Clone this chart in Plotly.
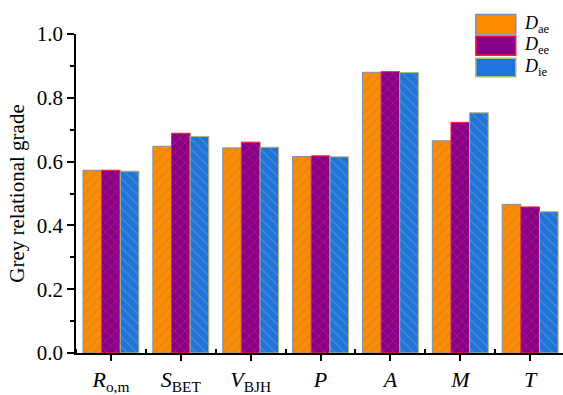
import plotly.graph_objects as go

categories = ["<i>R</i><sub>o,m</sub>", "<i>S</i><sub>BET</sub>", "<i>V</i><sub>BJH</sub>",
              "<i>P</i>", "<i>A</i>", "<i>M</i>", "<i>T</i>"]
series_names = ["<i>D</i><sub>ae</sub>", "<i>D</i><sub>ee</sub>", "<i>D</i><sub>ie</sub>"]
D_ae = [0.573, 0.648, 0.643, 0.616, 0.880, 0.665, 0.466]
D_ee = [0.573, 0.689, 0.661, 0.618, 0.882, 0.723, 0.458]
D_ie = [0.570, 0.679, 0.645, 0.615, 0.879, 0.753, 0.443]
y_ticks = [0.0, 0.2, 0.4, 0.6, 0.8, 1.0]

series = [D_ae, D_ee, D_ie]
fills = ["#FF8C00", "#880088", "#1E74DC"]
pat_fg = ["#A08060", "#E8306A", "#80A0A8"]
pat_shape = ["/", "x", "\\"]
borders = ["#7890B0", "#FF2020", "#B4B478"]

FONT = "Liberation Serif"
xs = list(range(len(categories)))

fig = go.Figure()
for vals, name, fc, pf, ps, bc in zip(series, series_names, fills, pat_fg, pat_shape, borders):
    fig.add_trace(go.Bar(
        x=xs, y=vals, name=name, showlegend=False,
        marker=dict(color=fc, line=dict(color=bc, width=1),
                    pattern=dict(shape=ps, fgcolor=pf, bgcolor=fc, size=7, solidity=0.2, fillmode="overlay")),
    ))

# legend drawn manually (larger swatches like the original)
box_x0, box_x1 = 0.821, 0.903
box_y = [(1.061, 1.000), (0.994, 0.933), (0.924, 0.866)]
for (y1, y0), name, fc, bc in zip(box_y, series_names, fills, borders):
    fig.add_shape(type="rect", xref="paper", yref="paper", x0=box_x0, x1=box_x1, y0=y0, y1=y1,
                  fillcolor=fc, line=dict(color=bc, width=1.5), layer="above")
    fig.add_annotation(xref="paper", yref="paper", x=0.915, y=(y0 + y1) / 2, text=name,
                       showarrow=False, xanchor="left", yanchor="middle",
                       font=dict(family=FONT, size=18, color="black"))

fig.update_layout(
    width=563, height=395,
    margin=dict(l=76, r=0, t=34, b=33),
    paper_bgcolor="white", plot_bgcolor="white",
    barmode="group", bargap=0.2, bargroupgap=0,
    font=dict(family=FONT, color="black"),
    showlegend=False,
)
fig.update_xaxes(
    range=[-0.5, 6.47], tickmode="array", tickvals=xs, ticktext=categories,
    showline=True, linecolor="black", linewidth=1.5, mirror=False,
    ticks="outside", ticklen=6, tickwidth=1.5, tickcolor="black",
    showgrid=False, zeroline=False, tickfont=dict(family=FONT, size=22, color="black"),
    minor=dict(tickmode="linear", tick0=0.5, dtick=1, ticks="inside", ticklen=4, tickcolor="black", showgrid=False),
)
fig.update_yaxes(
    range=[0, 1.0], tickmode="array", tickvals=y_ticks, tickformat=".1f",
    showline=True, linecolor="black", linewidth=1.5,
    ticks="outside", ticklen=7, tickwidth=1.5, tickcolor="black",
    showgrid=False, zeroline=False, tickfont=dict(family=FONT, size=21, color="black"),
    minor=dict(tickmode="linear", tick0=0, dtick=0.1, ticks="outside", ticklen=4, tickcolor="black", showgrid=False),
    title=dict(text="Grey relational grade", font=dict(family=FONT, size=21, color="black"), standoff=6),
)

fig.write_html("out.html")
